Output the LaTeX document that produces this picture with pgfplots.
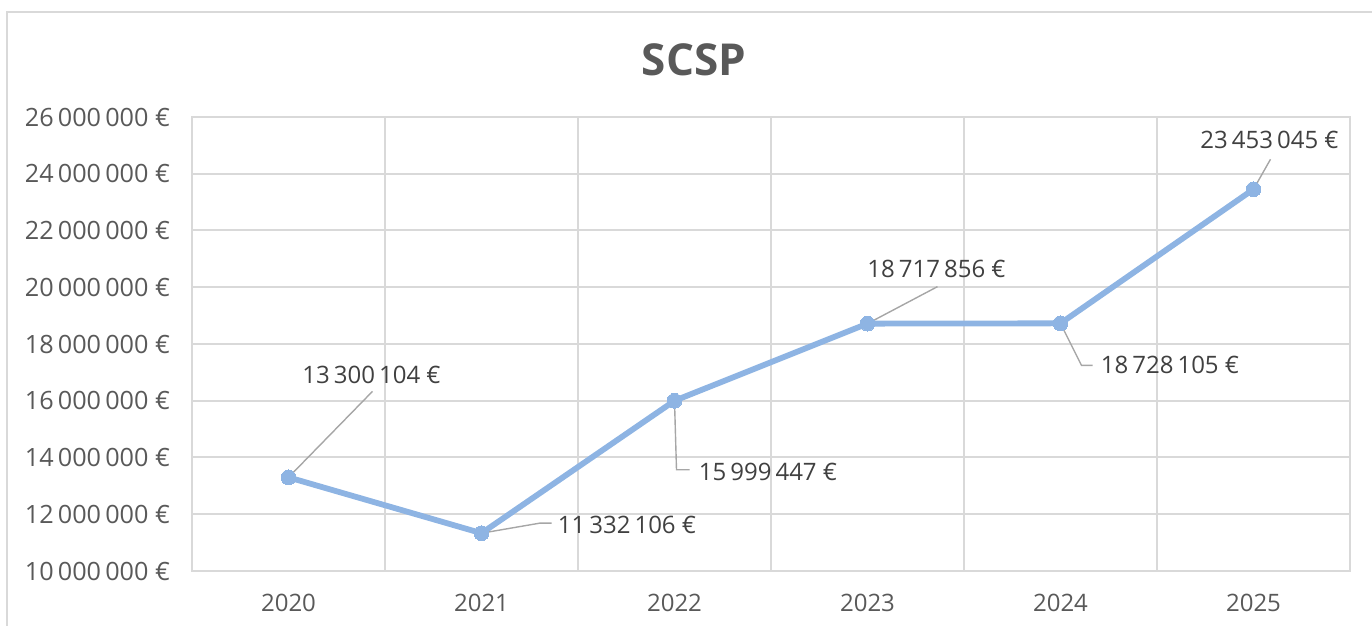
\documentclass[border=0pt]{standalone}
\usepackage{pgfplots}
\pgfplotsset{compat=1.18}
\usepackage{fontspec}
\setmainfont{Open Sans}
\definecolor{txt}{HTML}{595959}
\definecolor{lbl}{HTML}{404040}
\definecolor{grd}{HTML}{D9D9D9}
\definecolor{ln}{HTML}{8EB4E3}
\definecolor{ldr}{HTML}{A6A6A6}
\begin{document}
\begin{tikzpicture}
\useasboundingbox (0,0) rectangle (686pt,313pt);
\draw[grd, line width=1pt] (3.5pt,-10pt) -- (3.5pt,307pt) -- (700pt,307pt);
\node[font=\fontsize{22}{26}\selectfont\bfseries, text=txt] at (347pt,283pt) {SCSP};
\begin{axis}[
  at={(96pt,27.5pt)}, anchor=south west,
  scale only axis, width=579pt, height=227pt,
  xmin=-0.5, xmax=5.5, ymin=10000000, ymax=26000000,
  xtick={0,1,2,3,4,5},
  xticklabels={2020,2021,2022,2023,2024,2025},
  minor xtick={0.5,1.5,2.5,3.5,4.5},
  ytick={10000000,12000000,14000000,16000000,18000000,20000000,22000000,24000000,26000000},
  yticklabel={\pgfmathprintnumber[fixed,precision=0,1000 sep={\,}]{\tick}\ €},
  /pgf/number format/assume math mode=true,
  scaled y ticks=false,
  ymajorgrids, xminorgrids,
  grid style={grd, line width=1pt},
  minor grid style={grd, line width=1pt},
  axis line style={grd, line width=1pt},
  major tick length=0pt, minor tick length=0pt,
  tick label style={font=\fontsize{12}{14}\selectfont, text=txt},
  yticklabel style={font=\fontsize{12.6}{14}\selectfont, xshift=-7.5pt},
  xticklabel style={yshift=-8pt},
  clip=false,
]
\addplot[ln, line width=2.9pt, mark=*, mark size=3.7pt, mark options={fill=ln, draw=ln, line width=0pt}]
  coordinates {(0,13300104) (1,11332106) (2,15999447) (3,18717856) (4,18728105) (5,23453045)};
\begin{scope}[every node/.style={font=\fontsize{12}{14}\selectfont, text=lbl, inner sep=0pt}]
\draw[ldr, line width=0.7pt] (axis cs:0,13300104) -- ++(42pt,43pt);
\path (axis cs:0,13300104) ++(41.5pt,51pt) node {13\,300\,104 €};
\draw[ldr, line width=0.7pt] (axis cs:1,11332106) -- ++(29pt,5pt) -- ++(6pt,0pt);
\path (axis cs:1,11332106) ++(38pt,4pt) node[anchor=west] {11\,332\,106 €};
\draw[ldr, line width=0.7pt] (axis cs:2,15999447) -- ++(1pt,-34.5pt) -- ++(6.5pt,0pt);
\path (axis cs:2,15999447) ++(12pt,-35.5pt) node[anchor=west] {15\,999\,447 €};
\draw[ldr, line width=0.7pt] (axis cs:3,18717856) -- ++(35pt,18.5pt);
\path (axis cs:3,18717856) ++(34.5pt,27.5pt) node {18\,717\,856 €};
\draw[ldr, line width=0.7pt] (axis cs:4,18728105) -- ++(10.5pt,-21pt) -- ++(5.5pt,0pt);
\path (axis cs:4,18728105) ++(20pt,-21pt) node[anchor=west] {18\,728\,105 €};
\draw[ldr, line width=0.7pt] (axis cs:5,23453045) -- ++(8.5pt,15pt);
\path (axis cs:5,23453045) ++(8pt,24.5pt) node {23\,453\,045 €};
\end{scope}
\end{axis}
\end{tikzpicture}
\end{document}
